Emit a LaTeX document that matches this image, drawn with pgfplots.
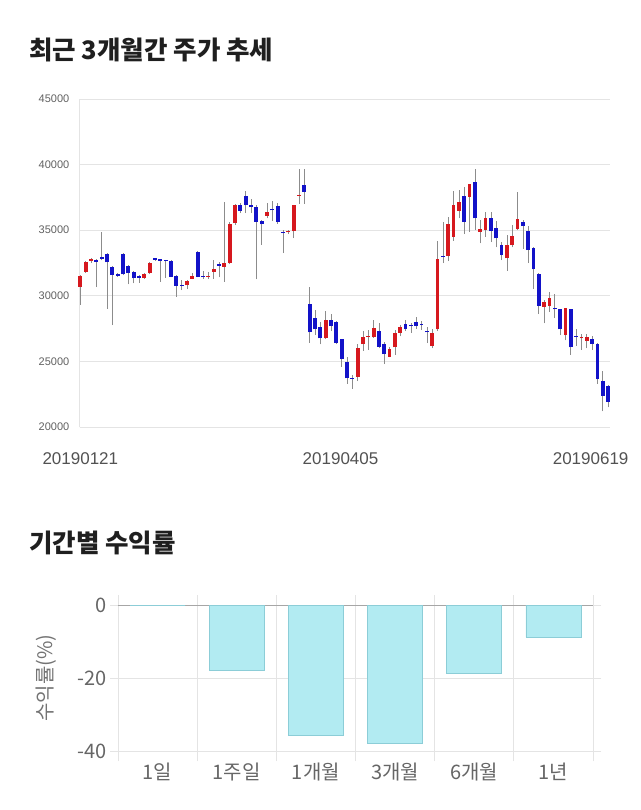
\documentclass[border=0pt]{standalone}
\usepackage{fontspec}
\setmainfont{Liberation Sans}
\newfontfamily\kr{Noto Sans CJK KR}
\usepackage{pgfplots}
\usepackage{pgfplotstable}
\pgfplotsset{compat=1.18}
\definecolor{up}{RGB}{214,24,30}
\definecolor{dn}{RGB}{18,18,200}
\definecolor{wick}{RGB}{140,140,140}
\definecolor{barfill}{RGB}{178,235,242}
\definecolor{baredge}{RGB}{140,205,215}
\definecolor{gridc}{RGB}{228,228,228}

\pgfplotstableread{
x o h l c
0 30700 31600 29300 31530
1 31840 32650 31750 32550
2 32650 32900 32500 32800
3 32730 32800 30670 32600
4 32980 34890 32700 32800
5 33160 33250 29000 32550
6 32220 32300 27770 31585
7 31635 31700 31450 31534
8 33160 33250 31550 31635
9 32296 32350 30870 31712
10 31838 31900 30950 31330
11 31534 31600 31000 31381
12 31381 31700 31300 31635
13 31712 32550 31650 32474
14 32855 32900 32650 32750
15 32780 32800 31076 32680
16 32728 32750 31380 32652
17 32652 32700 31400 31458
18 31534 31600 29933 30771
19 30820 31200 30440 30750
20 30797 31200 30500 31127
21 31305 31700 31250 31508
22 33363 33400 31400 31457
23 31500 31900 31300 31430
24 31457 31850 31300 31534
25 31838 32750 31300 32067
26 32423 32550 31400 32296
27 32220 37170 31075 32474
28 32474 35600 32400 35472
29 35574 37000 35400 36920
30 36920 37100 36300 36488
31 37600 38000 36300 36920
32 36920 37400 36300 36743
33 36743 36900 31260 35650
34 35700 35800 33900 35447
35 36107 37050 35900 36412
36 36590 37250 35700 36520
37 36844 37100 35500 35650
38 34900 35000 33250 34830
39 34837 35000 34700 34939
40 34913 36950 34400 36920
41 37650 39650 37000 37720
42 38445 39700 37000 37937
43 29374 30650 26430 27214
44 28281 28950 27000 27443
45 27595 28000 26300 26757
46 26757 28850 26700 28130
47 28180 28600 27300 27700
48 27977 28100 26300 26426
49 26680 26700 24600 25181
50 24928 25300 23300 23708
51 23760 24000 22900 23690
52 23835 26300 23500 26045
53 26325 27300 25800 26884
54 26860 27400 25900 26930
55 26833 28150 26800 27519
56 27290 27900 26000 26122
57 26300 26500 24800 25562
58 25359 26100 25300 25943
59 26070 27400 25500 27138
60 27188 27800 26900 27595
61 27849 28150 27300 27442
62 27770 27900 27200 27690
63 28027 28400 27500 27696
64 27880 28100 27400 27800
65 27315 27600 26400 27213
66 26197 27500 26000 27188
67 27442 34200 27300 32804
68 33032 35600 32500 32956
69 33032 36000 32650 35472
70 34506 38000 34200 36920
71 36488 38100 35900 37174
72 37631 38300 34700 35650
73 37555 38550 34900 38495
74 38700 39640 35000 35910
75 34887 35800 34000 35065
76 35014 36400 34500 35904
77 35904 36400 34100 34938
78 35200 35700 33700 34379
79 33871 34100 32728 33108
80 32855 34600 31900 33871
81 33871 35400 33700 34583
82 35066 37900 35000 35828
83 35650 35800 33600 35320
84 34938 35300 32500 33490
85 33617 33700 30500 32016
86 31635 31700 28600 29247
87 29171 29700 27900 29501
88 29247 30300 28800 29806
89 29043 30100 28300 28960
90 28967 29000 27000 27443
91 27011 29100 26600 29043
92 28967 29000 25500 26070
93 26970 27500 26200 26900
94 26756 27100 25900 26884
95 26578 27100 26000 26884
96 26706 26900 25900 26350
97 26300 26400 23300 23656
98 23529 24300 21200 22386
99 23148 23200 21500 21929
}\candles

\pgfplotstableread{
x r
0 0
1 -18.0
2 -35.6
3 -37.8
4 -18.8
5 -8.8
}\returns

\begin{document}
\begin{tikzpicture}
\path[use as bounding box, fill=white] (0pt,0pt) rectangle (640pt,-810pt);

\node[anchor=west, inner sep=0pt, font=\kr\bfseries\fontsize{25.5}{30}\selectfont, text=black!88] at (29pt,-50pt) {최근 3개월간 주가 추세};

\begin{axis}[
  at={(79.8pt,-427pt)}, anchor=south west,
  width=530pt, height=328pt, scale only axis,
  xmin=-0.1, xmax=99.3, ymin=20000, ymax=45000,
  clip=false,
  axis lines*=left,
  axis line style={draw=gridc, line width=0.8pt},
  ymajorgrids, grid style={draw=gridc, line width=0.7pt},
  ytick={20000,25000,30000,35000,40000,45000},
  xtick={0,48.8,95.7},
  xticklabels={20190121,20190405,20190619},
  major tick length=0pt,
  scaled y ticks=false,
  /pgf/number format/1000 sep={},
  /pgf/number format/assume math mode=true,
  yticklabel style={font=\fontsize{11}{12}\selectfont, text=black!62, xshift=-7pt},
  xticklabel style={font=\fontsize{17}{20}\selectfont, text=black!68, yshift=-22pt},
]
\addplot[draw=none, mark=none, forget plot,
  error bars/.cd, y dir=plus, y explicit, error mark=none,
  error bar style={draw=wick, line width=0.8pt}]
  table[x=x, y=l, y error plus expr=\thisrow{h}-\thisrow{l}] {\candles};
\addplot[draw=none, mark=none, forget plot,
  restrict expr to domain={\thisrow{c}-\thisrow{o}}{0:100000},
  error bars/.cd, y dir=plus, y explicit, error mark=none,
  error bar style={draw=up, line width=3.8pt}]
  table[x=x, y=o, y error plus expr=\thisrow{c}-\thisrow{o}] {\candles};
\addplot[draw=none, mark=none, forget plot,
  restrict expr to domain={\thisrow{o}-\thisrow{c}}{0.001:100000},
  error bars/.cd, y dir=plus, y explicit, error mark=none,
  error bar style={draw=dn, line width=3.8pt}]
  table[x=x, y=c, y error plus expr=\thisrow{o}-\thisrow{c}] {\candles};
\end{axis}

\node[anchor=west, inner sep=0pt, font=\kr\bfseries\fontsize{25.5}{30}\selectfont, text=black!88] at (29pt,-543pt) {기간별 수익률};

\begin{axis}[
  at={(118pt,-751pt)}, anchor=south west,
  width=475pt, height=146pt, scale only axis,
  xmin=-0.5, xmax=5.5, ymin=-40, ymax=0,
  ybar, bar width=55pt,
  axis line style={draw=none},
  xtick={0,1,2,3,4,5},
  xticklabels={1일,1주일,1개월,3개월,6개월,1년},
  minor xtick={-0.5,0.5,1.5,2.5,3.5,4.5,5.5},
  xminorgrids, minor grid style={draw=gridc, line width=0.7pt},
  ytick={-40,-20},
  extra y ticks={0},
  extra y tick style={major grid style={draw=black!35, line width=0.8pt}},
  ymajorgrids, major grid style={draw=gridc, line width=0.7pt},
  tick align=outside,
  major tick length=8pt, minor tick length=10pt,
  major x tick style={draw=none},
  tick style={draw=gridc, line width=0.7pt},
  /pgf/number format/assume math mode=true,
  tick label style={font=\kr\fontsize{20}{24}\selectfont, text=black!60},
  yticklabel style={inner sep=1pt, xshift=-2pt},
  ylabel={수익률(\%)},
  every axis y label/.style={at={(axis description cs:-0.152,0.5)}, rotate=90, anchor=center, font=\kr\fontsize{20}{24}\selectfont, text=black!55},
]
\addplot[fill=barfill, draw=baredge, line width=0.6pt] table[x=x, y=r] {\returns};
\end{axis}
\end{tikzpicture}
\end{document}
